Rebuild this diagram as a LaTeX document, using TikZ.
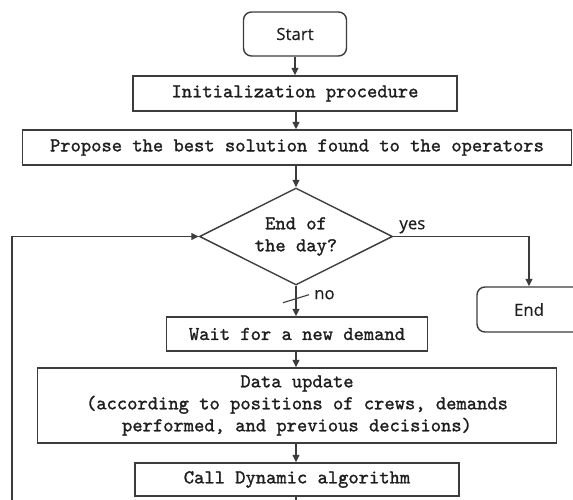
\documentclass[tikz,border=0pt]{standalone}
\usepackage{fontspec}
\newfontfamily\sansf{Open Sans}[FakeBold=0.4]
\newfontfamily\monob{lmmono10-regular.otf}[FakeBold=1.3]
\usetikzlibrary{shapes.geometric,arrows.meta}
\definecolor{linec}{HTML}{3C3C3C}
\definecolor{textc}{HTML}{1E1E1E}
\begin{document}
\begin{tikzpicture}[x=1pt,y=-1pt,
  monof/.style={font={\monob\fontsize{19.6}{22}\selectfont}},
  box/.style={draw=linec, line width=1.4pt, inner sep=0pt, monof, text=textc, align=center},
  term/.style={draw=linec, line width=1.4pt, rounded corners=8pt, inner sep=0pt, text=textc,
    font={\sansf\fontsize{16.8}{20}\selectfont}},
  dec/.style={draw=linec, line width=1.4pt, diamond, inner sep=0pt, aspect=2, monof, text=textc, align=center},
  flow/.style={draw=linec, line width=1.4pt, -{Triangle[length=7.5pt,width=7pt]}},
  plain/.style={draw=linec, line width=1.4pt},
  lbl/.style={text=textc, inner sep=0pt, font={\sansf\fontsize{16.8}{20}\selectfont}}]
\clip (0,0) rectangle (573,499);
\fill[white] (0,0) rectangle (573,499);

\node[term, minimum width=103pt, minimum height=44pt] (start) at (295,34) {Start};
\node[box, minimum width=324pt, minimum height=35pt] (init) at (295,93.5) {Initialization procedure};
\node[box, minimum width=549pt, minimum height=35pt] (prop) at (297,147.5) {Propose the best solution found to the operators};
\node[dec, minimum width=193pt, minimum height=97pt] (day) at (296,236.5) {End of\\the day?};
\node[term, minimum width=104pt, minimum height=45pt] (end) at (529,309.5) {End};
\node[box, minimum width=261pt, minimum height=34pt] (wait) at (297,334) {Wait for a new demand};
\node[box, minimum width=519pt, minimum height=75pt] (data) at (297,405.5) {Data update\\(according to positions of crews, demands\\performed, and previous decisions)};
\node[box, minimum width=324pt, minimum height=33pt] (call) at (297,479.5) {Call Dynamic algorithm};

\draw[flow] (start.south) -- (start.south |- init.north);
\draw[flow] (init.south -| day.north) -- (day.north |- prop.north);
\draw[flow] (prop.south -| day.north) -- (day.north);
\draw[flow] (day.east) -| (end.north);
\node[lbl, anchor=south west] (yes) at ([xshift=6pt,yshift=3pt]day.east) {yes};
\draw[flow] (day.south) -- (day.south |- wait.north);
\coordinate (slash) at ([yshift=-13pt]day.south);
\draw[plain, line width=1.1pt] ([xshift=-13pt,yshift=-4pt]slash) -- ([xshift=13pt,yshift=4pt]slash);
\node[lbl, anchor=west] (no) at ([xshift=18pt,yshift=4pt]slash) {no};
\draw[flow] (wait.south -| day.south) -- (day.south |- data.north);
\draw[flow] (data.south -| day.south) -- (day.south |- call.north);
\coordinate (callout) at (296,510);
\draw[plain] (call.south -| callout) -- (callout);
\coordinate (loopin) at (12,510);
\draw[flow] (loopin) |- (day.west);
\end{tikzpicture}
\end{document}
